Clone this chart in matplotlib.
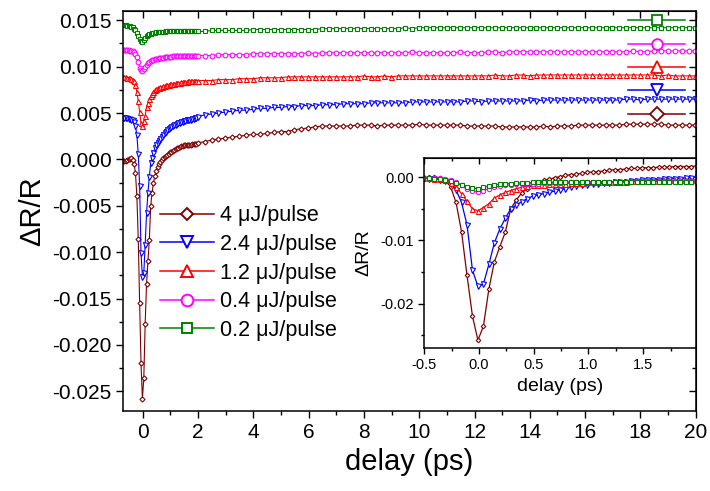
import numpy as np
import matplotlib
matplotlib.use("Agg")
import matplotlib.pyplot as plt
from matplotlib.lines import Line2D
from matplotlib.ticker import MultipleLocator, FormatStrFormatter, FuncFormatter

plt.rcParams['font.family'] = ['Liberation Sans', 'DejaVu Sans']

# pump-probe delay grid (ps): 0.05 ps steps round time zero, 0.25 ps on the tail
t_early = np.round(np.arange(-0.71, 2.0, 0.05), 2)   # 55 points, -0.71 .. 1.99
t_late = np.round(np.arange(2.24, 20.0, 0.25), 2)     # 72 points, 2.24 .. 19.99

# dR/R (no vertical offset), one row = 0.55 ps / 2 ps
brown_early = [-0.0002, -0.0002, -0.0002, -0.0001, 0.0000, 0.0000, 0.0001, -0.0001, -0.0005, -0.0015, -0.0040,
               -0.0086, -0.0155, -0.0220, -0.0258, -0.0236, -0.0177, -0.0134, -0.0110, -0.0087, -0.0050, -0.0036,
               -0.0025, -0.0018, -0.0012, -0.0008, -0.0005, -0.0003, -0.0001, 0.0001, 0.0003, 0.0004, 0.0005,
               0.0006, 0.0008, 0.0008, 0.0009, 0.0010, 0.0011, 0.0012, 0.0012, 0.0013, 0.0014, 0.0014,
               0.0015, 0.0015, 0.0015, 0.0016, 0.0016, 0.0016, 0.0017, 0.0017, 0.0017, 0.0017, 0.0018]
brown_late = [0.0019, 0.0021, 0.0022, 0.0023, 0.0024, 0.0025, 0.0026, 0.0027,
              0.0027, 0.0028, 0.0029, 0.0030, 0.0030, 0.0032, 0.0033, 0.0034,
              0.0035, 0.0036, 0.0036, 0.0036, 0.0036, 0.0036, 0.0037, 0.0037,
              0.0037, 0.0036, 0.0037, 0.0037, 0.0037, 0.0037, 0.0037, 0.0038,
              0.0037, 0.0037, 0.0037, 0.0037, 0.0037, 0.0037, 0.0036, 0.0036,
              0.0036, 0.0036, 0.0036, 0.0035, 0.0035, 0.0035, 0.0035, 0.0035,
              0.0035, 0.0036, 0.0035, 0.0036, 0.0036, 0.0036, 0.0037, 0.0037,
              0.0037, 0.0037, 0.0037, 0.0037, 0.0037, 0.0038, 0.0038, 0.0038,
              0.0038, 0.0038, 0.0038, 0.0037, 0.0037, 0.0037, 0.0037, 0.0037]

blue_early = [-0.0001, -0.0001, -0.0001, -0.0001, -0.0002, -0.0002, -0.0003, -0.0004, -0.0006, -0.0010, -0.0020,
              -0.0040, -0.0075, -0.0147, -0.0173, -0.0169, -0.0138, -0.0104, -0.0082, -0.0065, -0.0050, -0.0044,
              -0.0039, -0.0034, -0.0030, -0.0028, -0.0026, -0.0024, -0.0022, -0.0020, -0.0018, -0.0016, -0.0014,
              -0.0013, -0.0012, -0.0011, -0.0010, -0.0009, -0.0009, -0.0008, -0.0007, -0.0007, -0.0006, -0.0006,
              -0.0005, -0.0005, -0.0004, -0.0004, -0.0003, -0.0003, -0.0002, -0.0002, -0.0001, -0.0001, 0.0000]
blue_late = [0.0002, 0.0003, 0.0004, 0.0005, 0.0006, 0.0007, 0.0007, 0.0008,
             0.0009, 0.0009, 0.0010, 0.0010, 0.0011, 0.0011, 0.0012, 0.0012,
             0.0012, 0.0013, 0.0013, 0.0013, 0.0014, 0.0014, 0.0014, 0.0014,
             0.0015, 0.0015, 0.0015, 0.0015, 0.0015, 0.0015, 0.0016, 0.0016,
             0.0016, 0.0016, 0.0016, 0.0016, 0.0016, 0.0016, 0.0017, 0.0017,
             0.0016, 0.0017, 0.0017, 0.0017, 0.0017, 0.0017, 0.0017, 0.0018,
             0.0017, 0.0018, 0.0018, 0.0018, 0.0018, 0.0018, 0.0018, 0.0018,
             0.0018, 0.0018, 0.0018, 0.0018, 0.0018, 0.0019, 0.0019, 0.0018,
             0.0019, 0.0019, 0.0019, 0.0019, 0.0019, 0.0019, 0.0019, 0.0019]

red_early = [0.0000, 0.0000, 0.0000, -0.0001, -0.0001, -0.0001, -0.0002, -0.0003, -0.0005, -0.0009, -0.0016,
             -0.0026, -0.0038, -0.0050, -0.0053, -0.0048, -0.0042, -0.0033, -0.0028, -0.0024, -0.0021, -0.0018,
             -0.0016, -0.0014, -0.0013, -0.0012, -0.0012, -0.0011, -0.0011, -0.0010, -0.0010, -0.0009, -0.0009,
             -0.0009, -0.0008, -0.0008, -0.0008, -0.0008, -0.0007, -0.0007, -0.0007, -0.0007, -0.0006, -0.0006,
             -0.0006, -0.0006, -0.0006, -0.0005, -0.0005, -0.0005, -0.0005, -0.0005, -0.0004, -0.0004, -0.0004]
red_late = [-0.0004, -0.0004, -0.0003, -0.0003, -0.0003, -0.0002, -0.0002, -0.0002,
            -0.0001, -0.0001, -0.0001, -0.0001, 0.0000, 0.0000, 0.0000, 0.0000,
            0.0000, 0.0000, 0.0000, 0.0000, 0.0000, 0.0000, 0.0000, 0.0001,
            0.0000, 0.0000, 0.0001, 0.0000, 0.0001, 0.0001, 0.0001, 0.0001,
            0.0001, 0.0001, 0.0001, 0.0001, 0.0001, 0.0001, 0.0001, 0.0001,
            0.0001, 0.0001, 0.0002, 0.0001, 0.0001, 0.0002, 0.0002, 0.0001,
            0.0002, 0.0002, 0.0002, 0.0002, 0.0002, 0.0002, 0.0002, 0.0002,
            0.0002, 0.0002, 0.0002, 0.0002, 0.0002, 0.0002, 0.0002, 0.0002,
            0.0002, 0.0002, 0.0001, 0.0002, 0.0001, 0.0001, 0.0001, 0.0001]

magenta_early = [0.0000, 0.0000, 0.0000, 0.0000, 0.0000, -0.0001, -0.0001, -0.0001, -0.0002, -0.0004, -0.0008,
                 -0.0013, -0.0019, -0.0022, -0.0023, -0.0021, -0.0018, -0.0016, -0.0014, -0.0013, -0.0012, -0.0011,
                 -0.0011, -0.0010, -0.0010, -0.0010, -0.0009, -0.0009, -0.0009, -0.0009, -0.0008, -0.0008, -0.0008,
                 -0.0008, -0.0008, -0.0008, -0.0007, -0.0007, -0.0007, -0.0007, -0.0007, -0.0007, -0.0007, -0.0006,
                 -0.0006, -0.0006, -0.0006, -0.0006, -0.0006, -0.0006, -0.0006, -0.0006, -0.0006, -0.0006, -0.0006]
magenta_late = [-0.0006, -0.0006, -0.0005, -0.0005, -0.0005, -0.0005, -0.0005, -0.0004,
                -0.0004, -0.0004, -0.0004, -0.0004, -0.0004, -0.0004, -0.0004, -0.0003,
                -0.0004, -0.0003, -0.0003, -0.0003, -0.0003, -0.0003, -0.0003, -0.0003,
                -0.0003, -0.0003, -0.0003, -0.0003, -0.0003, -0.0003, -0.0002, -0.0003,
                -0.0003, -0.0003, -0.0003, -0.0003, -0.0003, -0.0002, -0.0003, -0.0003,
                -0.0003, -0.0002, -0.0002, -0.0003, -0.0002, -0.0002, -0.0002, -0.0002,
                -0.0002, -0.0002, -0.0002, -0.0002, -0.0002, -0.0002, -0.0002, -0.0002,
                -0.0002, -0.0002, -0.0002, -0.0002, -0.0002, -0.0002, -0.0001, -0.0002,
                -0.0002, -0.0001, -0.0001, -0.0001, -0.0001, -0.0001, -0.0001, -0.0001]

green_early = [0.0000, 0.0000, 0.0000, -0.0001, -0.0001, -0.0001, -0.0002, -0.0002, -0.0004, -0.0006, -0.0009,
               -0.0012, -0.0015, -0.0017, -0.0018, -0.0016, -0.0014, -0.0012, -0.0011, -0.0010, -0.0010, -0.0009,
               -0.0009, -0.0009, -0.0008, -0.0008, -0.0008, -0.0008, -0.0008, -0.0008, -0.0008, -0.0007, -0.0007,
               -0.0007, -0.0007, -0.0007, -0.0007, -0.0007, -0.0007, -0.0007, -0.0007, -0.0007, -0.0007, -0.0007,
               -0.0007, -0.0007, -0.0007, -0.0007, -0.0007, -0.0007, -0.0007, -0.0007, -0.0007, -0.0007, -0.0007]
green_late = [-0.0007, -0.0006, -0.0006, -0.0006, -0.0006, -0.0006, -0.0006, -0.0005,
              -0.0005, -0.0005, -0.0005, -0.0005, -0.0005, -0.0005, -0.0005, -0.0005,
              -0.0005, -0.0004, -0.0004, -0.0004, -0.0004, -0.0004, -0.0004, -0.0004,
              -0.0004, -0.0004, -0.0004, -0.0004, -0.0004, -0.0003, -0.0004, -0.0003,
              -0.0003, -0.0003, -0.0003, -0.0003, -0.0003, -0.0003, -0.0003, -0.0003,
              -0.0003, -0.0003, -0.0003, -0.0003, -0.0003, -0.0003, -0.0003, -0.0003,
              -0.0003, -0.0003, -0.0003, -0.0003, -0.0003, -0.0003, -0.0003, -0.0003,
              -0.0003, -0.0003, -0.0003, -0.0003, -0.0003, -0.0003, -0.0003, -0.0003,
              -0.0003, -0.0003, -0.0003, -0.0003, -0.0003, -0.0003, -0.0003, -0.0003]

labels = ['4 μJ/pulse', '2.4 μJ/pulse', '1.2 μJ/pulse', '0.4 μJ/pulse', '0.2 μJ/pulse']
offsets = [0.0, 0.0046, 0.0089, 0.0118, 0.0145]   # vertical shift used in the main panel
early = [brown_early, blue_early, red_early, magenta_early, green_early]
late = [brown_late, blue_late, red_late, magenta_late, green_late]

colors = ['#800000', '#0000ff', '#ff0000', '#ff00ff', '#008000']
markers = ['D', 'v', '^', 'o', 's']
ms_main = [2.6, 3.6, 3.6, 3.4, 3.1]
ms_inset = [2.3, 3.6, 3.6, 3.1, 2.9]
ms_leg = [6.5, 8.0, 8.0, 8.4, 7.2]


def fmt3(v, pos):
    # no "-0.000"
    if abs(v) < 1e-9:
        v = 0.0
    return '%.3f' % v


fig = plt.figure(figsize=(7.1, 4.91), dpi=100)
ax = fig.add_axes([0.1737, 0.1635, 0.8062, 0.8141])

for i in range(5):
    t = np.concatenate([t_early, t_late])
    y = np.concatenate([early[i], late[i]]) + offsets[i]
    ax.plot(t, y, color=colors[i], marker=markers[i], ms=ms_main[i], mfc='white',
            mew=0.8, lw=0.8)

ax.set_xlim(-0.7, 20)
ax.set_ylim(-0.0271, 0.016)
ax.xaxis.set_major_locator(MultipleLocator(2))
ax.xaxis.set_minor_locator(MultipleLocator(1))
ax.yaxis.set_major_locator(MultipleLocator(0.005))
ax.yaxis.set_minor_locator(MultipleLocator(0.0025))
ax.yaxis.set_major_formatter(FuncFormatter(fmt3))
ax.tick_params(which='both', direction='out', labelsize=15, width=1)
ax.tick_params(which='major', length=5)
ax.tick_params(which='minor', length=3)
for s in ax.spines.values():
    s.set_linewidth(1.1)
ax.set_xlabel('delay (ps)', fontsize=21, labelpad=5)
ax.set_ylabel('ΔR/R', fontsize=21)

# top and right axes carry inward ticks only
top = ax.secondary_xaxis('top')
top.xaxis.set_major_locator(MultipleLocator(2))
top.xaxis.set_minor_locator(MultipleLocator(1))
top.tick_params(which='both', direction='in', labeltop=False, width=1)
top.tick_params(which='major', length=5)
top.tick_params(which='minor', length=3)
right = ax.secondary_yaxis('right')
right.yaxis.set_major_locator(MultipleLocator(0.005))
right.yaxis.set_minor_locator(MultipleLocator(0.0025))
right.tick_params(which='both', direction='in', labelright=False, width=1)
right.tick_params(which='major', length=5)
right.tick_params(which='minor', length=3)

handles = [Line2D([], [], color=colors[i], marker=markers[i], ms=ms_leg[i], mfc='white',
                  mew=1.4, lw=1.1) for i in range(5)]
leg1 = ax.legend(handles, labels, loc='upper left', bbox_to_anchor=(0.064, 0.5135),
                 frameon=False, fontsize=15.5, handlelength=2.5, handletextpad=0.3,
                 labelspacing=0.35, borderpad=0, borderaxespad=0)
ax.add_artist(leg1)

# marker key next to each curve at the right edge
ms_key = [7.5, 9.2, 9.2, 7.7, 7.2]
key = [Line2D([], [], color=colors[i], marker=markers[i], ms=ms_key[i], mfc='white',
              mew=1.3, lw=1.1) for i in range(4, -1, -1)]
ax.legend(key, [''] * 5, loc='upper left', bbox_to_anchor=(0.882, 0.992),
          frameon=False, fontsize=12, handlelength=3.4, handletextpad=0,
          labelspacing=0.5, borderpad=0, borderaxespad=0)

# inset: unshifted traces around time zero
axin = fig.add_axes([0.5976, 0.2918, 0.3823, 0.3858])
for i in range(5):
    axin.plot(t_early, early[i], color=colors[i], marker=markers[i], ms=ms_inset[i],
              mfc='white', mew=0.8, lw=0.9)
axin.set_xlim(-0.5, 1.98)
axin.set_ylim(-0.027, 0.003)
axin.xaxis.set_major_locator(MultipleLocator(0.5))
axin.xaxis.set_minor_locator(MultipleLocator(0.25))
axin.yaxis.set_major_locator(MultipleLocator(0.01))
axin.yaxis.set_minor_locator(MultipleLocator(0.005))
axin.xaxis.set_major_formatter(FormatStrFormatter('%.1f'))
axin.yaxis.set_major_formatter(FormatStrFormatter('%.2f'))
axin.tick_params(which='both', direction='out', labelsize=10.5, width=1)
axin.tick_params(which='major', length=4)
axin.tick_params(which='minor', length=2.5)
for s in axin.spines.values():
    s.set_linewidth(1.1)
axin.set_xlabel('delay (ps)', fontsize=14)
axin.set_ylabel('ΔR/R', fontsize=14, labelpad=6)
itop = axin.secondary_xaxis('top')
itop.xaxis.set_major_locator(MultipleLocator(0.5))
itop.xaxis.set_minor_locator(MultipleLocator(0.25))
itop.tick_params(which='both', direction='in', labeltop=False, width=1)
itop.tick_params(which='major', length=4)
itop.tick_params(which='minor', length=2.5)

fig.savefig('out.png', dpi=100)
